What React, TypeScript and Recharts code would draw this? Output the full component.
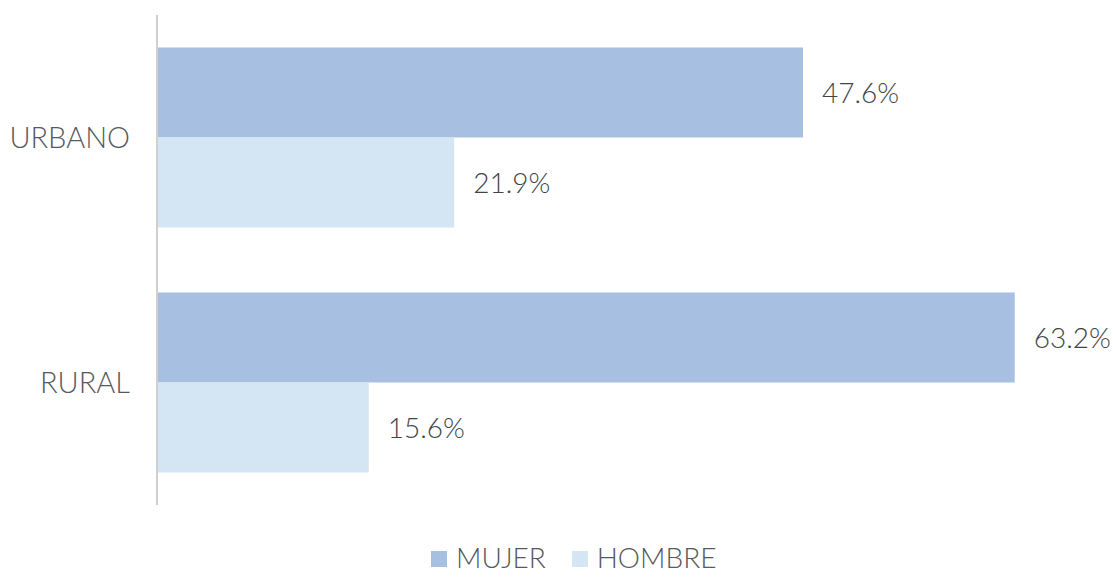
import React from 'react';
import { BarChart, Bar, XAxis, YAxis, Legend, LabelList } from 'recharts';

const categories = ['URBANO', 'RURAL'];
const mujer = [47.6, 63.2];
const hombre = [21.9, 15.6];

const COLOR_MUJER = '#a7bfe0';
const COLOR_HOMBRE = '#d4e6f4';
const FONT = 'Lato, "Open Sans", sans-serif';

const data = categories.map((c, i) => ({ cat: c, MUJER: mujer[i], HOMBRE: hombre[i] }));

function LegendContent() {
  const items = [
    { name: 'MUJER', color: COLOR_MUJER },
    { name: 'HOMBRE', color: COLOR_HOMBRE },
  ];
  return (
    <div style={{ height: 70, display: 'flex', alignItems: 'flex-end', justifyContent: 'flex-start', paddingLeft: 431 }}>
      {items.map((it) => (
        <div key={it.name} style={{ display: 'flex', alignItems: 'center', marginRight: 26, fontFamily: FONT, fontWeight: 300, fontSize: 28, color: '#555a5c', lineHeight: '34px', position: 'relative', top: -1 }}>
          <span style={{ width: 16, height: 16, background: it.color, display: 'inline-block', marginRight: 9, marginTop: 4 }} />
          {it.name}
        </div>
      ))}
    </div>
  );
}

export default function App() {
  return (
    <div style={{ position: 'absolute', left: 0, top: 0, background: '#fff' }}>
      <BarChart
        width={1113}
        height={577}
        data={data}
        layout="vertical"
        margin={{ top: 15, right: 6, bottom: 2, left: 0 }}
        barCategoryGap="13.3%"
        barGap={0}
      >
        <XAxis type="number" domain={[0, 70]} hide />
        <YAxis
          type="category"
          dataKey="cat"
          width={157}
          tickLine={false}
          tickSize={0}
          tickMargin={27}
          axisLine={{ stroke: '#d0d0d0', strokeWidth: 2 }}
          tick={{ fill: '#555a5c', fontSize: 29, fontFamily: FONT, fontWeight: 300 }}
        />
        <Legend verticalAlign="bottom" content={<LegendContent />} />
        <Bar dataKey="MUJER" fill={COLOR_MUJER} isAnimationActive={false}>
          <LabelList dataKey="MUJER" position="right" offset={19} formatter={(v: number) => `${v.toFixed(1)}%`} style={{ fill: '#404548', fontSize: 28, fontFamily: FONT, fontWeight: 300 }} />
        </Bar>
        <Bar dataKey="HOMBRE" fill={COLOR_HOMBRE} isAnimationActive={false}>
          <LabelList dataKey="HOMBRE" position="right" offset={19} formatter={(v: number) => `${v.toFixed(1)}%`} style={{ fill: '#404548', fontSize: 28, fontFamily: FONT, fontWeight: 300 }} />
        </Bar>
      </BarChart>
    </div>
  );
}
